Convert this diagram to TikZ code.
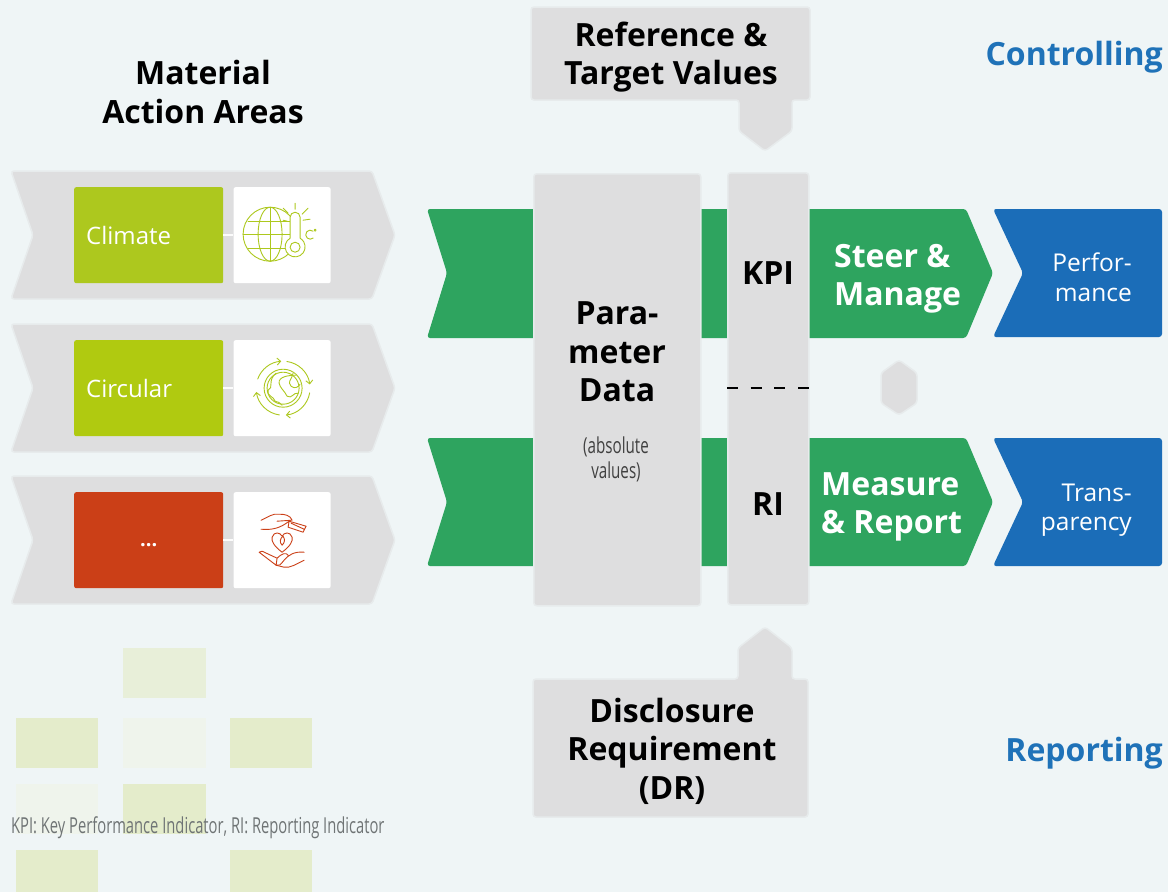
\documentclass[tikz,border=0pt]{standalone}
\usepackage{fontspec}
\setmainfont{Open Sans}
\usetikzlibrary{arrows.meta,positioning,calc}
\definecolor{pagebg}{HTML}{EFF5F6}
\definecolor{panelgray}{HTML}{DEDEDF}
\definecolor{panelrim}{HTML}{E7EBEC}
\definecolor{limegreen}{HTML}{ADC81E}
\definecolor{limedark}{HTML}{B0CA10}
\definecolor{rustred}{HTML}{CB3F17}
\definecolor{bandgreen}{HTML}{2EA45F}
\definecolor{bandblue}{HTML}{1B6DB8}
\definecolor{headblue}{HTML}{1F72B8}
\definecolor{patchgreen}{HTML}{E4ECCB}
\definecolor{patchlight}{HTML}{E8EFD9}
\definecolor{patchpale}{HTML}{EFF4EC}
\definecolor{notegray}{HTML}{6F7475}
\tikzset{
  panel/.style={fill=panelgray, draw=panelrim, line width=1.5pt, rounded corners=3pt},
  panelbox/.style={panel, rectangle, minimum width=#1, inner sep=0pt},
  areabox/.style={rectangle, fill=#1, rounded corners=2pt, minimum width=149pt, minimum height=96pt, inner sep=0pt, text=white, text width=125pt, align=left, font=\fontsize{24}{28}\selectfont},
  iconbox/.style={rectangle, fill=white, rounded corners=2pt, minimum width=97pt, minimum height=96pt, inner sep=0pt},
  tie/.style={draw=white!90!panelgray, line width=1.5pt},
  bandshape/.style={fill=bandgreen, rounded corners=3pt},
  blueshape/.style={fill=bandblue, rounded corners=3pt},
  patch/.style={fill=patchgreen},
  palepatch/.style={fill=patchpale},
  heading/.style={align=center, inner sep=0pt, font=\fontsize{32}{38.5}\selectfont\bfseries},
  bandlabel/.style={align=left, inner sep=0pt, text=white, font=\fontsize{32}{38.5}\selectfont\bfseries},
  bluelabel/.style={align=right, inner sep=0pt, text=white, font=\fontsize{24.5}{29.5}\selectfont},
  sidehead/.style={inner sep=0pt, text=headblue, font=\fontsize{32}{38}\selectfont\bfseries},
  iconline/.style={line width=0.9pt, line cap=round, line join=round, draw=#1},
  ringarrow/.style={iconline=#1, -{Straight Barb[length=3.5pt,width=7pt]}}
}
\begin{document}
\begin{tikzpicture}[x=1pt, y=-1pt]
      \useasboundingbox (0,0) rectangle (1168,892);
      \fill[pagebg] (0,0) rectangle (1168,892);

      % Background patches
      \fill[patchlight] (123,648) rectangle (206,698);
      \fill[patch] (16,718) rectangle (98,768);
      \fill[palepatch] (123,718) rectangle (206,768);
      \fill[patch] (230,718) rectangle (312,768);
      \fill[palepatch] (16,784) rectangle (98,834);
      \fill[patch] (123,784) rectangle (206,834);
      \fill[patch] (16,850) rectangle (98,892);
      \fill[patch] (230,850) rectangle (312,892);

      % Gray chevrons behind the action areas
      \foreach \ytop in {171,324,476} {
        \draw[panel] (11,\ytop) -- (372,\ytop) -- (395,\ytop+64) -- (372,\ytop+128) -- (11,\ytop+128) -- (33,\ytop+64) -- cycle;
      }

      % Action areas
      \node[areabox=limegreen, anchor=north west] (climate) at (74,187) {Climate};
      \node[iconbox, right=10pt of climate] (climateicon) {};
      \node[areabox=limedark, anchor=north west] (circular) at (74,340) {Circular};
      \node[iconbox, right=10pt of circular] (circularicon) {};
      \node[areabox=rustred, anchor=north west, align=center] (other) at (74,492) {\raisebox{-12pt}{\fontsize{20}{24}\selectfont\bfseries...}};
      \node[iconbox, right=10pt of other] (othericon) {};
      \draw[tie] (climate) -- (climateicon);
      \draw[tie] (circular) -- (circularicon);
      \draw[tie] (other) -- (othericon);

      % Globe with thermometer
      \begin{scope}[shift={(climateicon.center)}, every path/.append style={iconline=limegreen}]
        \draw (-12,-1) circle (27);
        \draw (-12,-1) ellipse (12 and 27);
        \draw (-39,-1) -- (15,-1) (-12,-28) -- (-12,26);
        \draw (-34,-14) -- (10,-14) (-34,13) -- (10,13);
        \draw[fill=white] (8,-18) -- (8,3) arc (240:-60:10) -- (18,-18) arc (0:-180:5) -- cycle;
        \draw (13,12) circle (5);
        \draw (13,-26) -- (13,-32) (20,-21) -- (26,-27) (21,-15) -- (28,-16) (6,-22) -- (1,-27) (5,-14) -- (1,-15);
        \draw (31,-4) arc (-50:-310:4.5);
        \draw (33,-5) circle (1);
      \end{scope}

      % Globe with circling arrows
      \begin{scope}[shift={(circularicon.center)}, every path/.append style={iconline=limegreen}]
        \draw (1,0) circle (19);
        \draw (1,0) circle (16);
        \draw (-6,-15) .. controls (-15,-8) and (-8,0) .. (-14,2) .. controls (-16,8) and (-8,8) .. (-7,13) .. controls (-4,14) and (-2,14) .. (0,17);
        \draw (14,-13) .. controls (8,-13) and (-4,-12) .. (-3,-5) .. controls (-2,0) and (2,2) .. (5,8) .. controls (10,11) and (11,4) .. (16,5);
        \draw (11,-15) .. controls (9,-7) and (5,-7) .. (9,-2) .. controls (13,1) and (16,-1) .. (18,-4);
        \draw[ringarrow=limegreen] (1,0) ++(200:27) arc (200:266:27);
        \draw[ringarrow=limegreen] (1,0) ++(-82:27) arc (-82:-8:27);
        \draw[ringarrow=limegreen] (1,0) ++(10:27) arc (10:84:27);
        \draw[ringarrow=limegreen] (1,0) ++(98:27) arc (98:172:27);
      \end{scope}

      % Heart between two hands
      \begin{scope}[shift={(othericon.center)}, every path/.append style={iconline=rustred}]
        \draw (0,12) .. controls (-8,6) and (-11,1) .. (-10,-3) .. controls (-8,-9) and (-2,-8) .. (0,-4) .. controls (2,-8) and (8,-9) .. (10,-3) .. controls (11,1) and (8,6) .. (0,12);
        \draw (0,5) .. controls (-3,2) and (-2,-2) .. (1,-4) .. controls (3,-1) and (3,2) .. (0,5);
        \draw (-21,-20) .. controls (-14,-23) and (-10,-27) .. (-3,-26) .. controls (3,-26) and (8,-25) .. (10,-20) -- (-5,-19);
        \draw (-21,-11) .. controls (-10,-10) and (-2,-12) .. (7,-19) -- (24,-14) -- (21,-8) -- (6,-13) -- (7,-19) (9,-17) -- (22,-11);
        \draw (22,12) .. controls (12,11) and (6,15) .. (2,20) .. controls (-2,25) and (-3,26) .. (-6,25) -- (-23,12) -- (-20,11) -- (-5,18) -- (-6,25) (-5,18) .. controls (0,13) and (4,12) .. (6,15);
        \draw (22,20) .. controls (14,24) and (8,28) .. (2,27) -- (-6,25);
      \end{scope}

      % Green bands
      \fill[bandshape] (427,209) -- (700,209) -- (966,209) -- (993,273) -- (966,338) -- (427,338) -- (447,273) -- cycle;
      \fill[bandshape] (427,438) -- (700,438) -- (966,438) -- (993,502) -- (966,566) -- (427,566) -- (447,502) -- cycle;

      % Blue outcomes
      \fill[blueshape] (993,209) -- (1162,209) -- (1162,337) -- (993,337) -- (1023,273) -- cycle;
      \fill[blueshape] (993,438) -- (1162,438) -- (1162,566) -- (993,566) -- (1023,502) -- cycle;

      % Hexagon between the bands
      \draw[panel] (899,360) -- (917,373) -- (917,403) -- (899,415) -- (881,403) -- (881,373) -- cycle;

      % Centre columns
      \node[panelbox=167pt, minimum height=432pt, anchor=north west] (param) at (533,173) {};
      \node[panelbox=81pt, minimum height=432pt, anchor=north west] (indicator) at (727,172) {};
      \coordinate (dashl) at (indicator.west |- 0,388);
      \coordinate (dashr) at (indicator.east |- 0,388);
      \draw[line width=1.6pt, dash pattern=on 11pt off 12.7pt] (dashl) -- (dashr);

      % Boxes with pointers
      \draw[panel] (531,7) -- (810,7) -- (810,100) -- (792,100) -- (792,131) -- (765,151) -- (739,131) -- (739,100) -- (531,100) -- cycle;
      \draw[panel] (533,679) -- (738,679) -- (738,648) -- (765,627) -- (792,648) -- (792,679) -- (808,679) -- (808,817) -- (533,817) -- cycle;

      % Texts
      \node[heading] (areas) at (203,92) {Material\\Action Areas};
      \node[heading] (target) at (671,57) {Reference \&\\Target Values};
      \node[heading] (disclosure) at (672,751) {Disclosure\\Requirement\\(DR)};
      \node[heading] (paramtext) at (617,352) {Para-\\meter\\Data};
      \node[align=center, inner sep=0pt, xscale=0.69, font=\fontsize{22}{25}\selectfont, text=black!75] (paramnote) at (616,459) {(absolute\\values)};
      \node[heading] (kpi) at (768,273) {KPI};
      \node[heading] (ri) at (768,504) {RI};
      \node[bandlabel, anchor=west] (steer) at (834,279) {Steer \&\\Manage};
      \node[bandlabel, anchor=west] (measure) at (821,507) {Measure\\\& Report};
      \node[bluelabel, anchor=east] (perf) at (1132,277) {Perfor-\\mance};
      \node[bluelabel, anchor=east] (trans) at (1132,510) {Trans-\\parency};
      \node[sidehead, anchor=east] (controlling) at (1163,57) {Controlling};
      \node[sidehead, anchor=east] (reporting) at (1163,753) {Reporting};
      \node[anchor=west, inner sep=0pt, xscale=0.67, text=notegray, font=\fontsize{22}{26}\selectfont] (note) at (11,828) {KPI: Key Performance Indicator, RI: Reporting Indicator};
    \end{tikzpicture}
\end{document}
